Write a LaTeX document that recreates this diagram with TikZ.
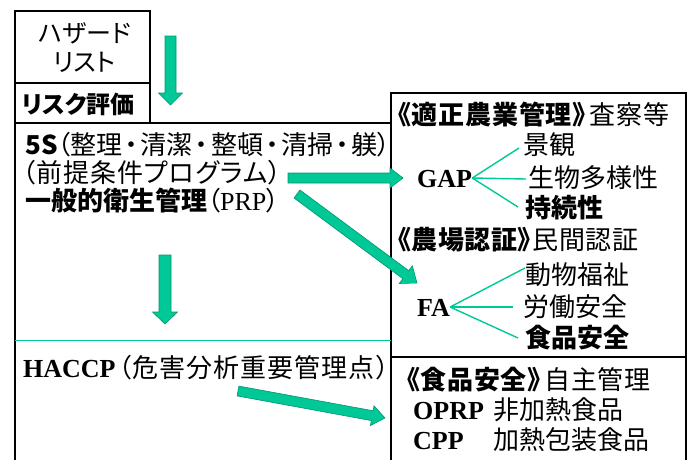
\documentclass[tikz,border=0pt]{standalone}
\usepackage{fontspec}
\setmainfont{Liberation Serif}
\newfontfamily\jp[RawFeature=+palt]{Noto Sans CJK JP}
\usetikzlibrary{calc}
\definecolor{tealfill}{RGB}{0,200,150}
\definecolor{tealedge}{RGB}{0,150,110}
\newcommand{\mydot}{\hspace{0.1em}・\hspace{0.1em}}
\newcommand{\fatarr}[5]{%
  \path (#1) coordinate (fa-s) (#2) coordinate (fa-e);
  \path ($(fa-e)!#5!(fa-s)$) coordinate (fa-h);
  \filldraw[fatarrow] ($(fa-s)!#3!90:(fa-e)$) -- ($(fa-h)!#3!-90:(fa-s)$) -- ($(fa-h)!#4!-90:(fa-s)$) -- (fa-e) -- ($(fa-h)!#4!90:(fa-s)$) -- ($(fa-h)!#3!90:(fa-s)$) -- ($(fa-s)!#3!-90:(fa-e)$) -- cycle;}
\tikzset{
  box/.style={draw=black, line width=1.5pt},
  fatarrow/.style={fill=tealfill, draw=tealedge, line width=0.6pt, line join=miter},
  branch/.style={draw=tealfill, line width=1.4pt},
  txt/.style={inner sep=0pt, anchor=west, text height=22pt, text depth=3pt, font=\jp\fontsize{26}{28}\selectfont},
  lat/.style={inner sep=0pt, anchor=west, text height=22pt, text depth=3pt, font=\rmfamily\bfseries\fontsize{26}{28}\selectfont},
}
\begin{document}
\begin{tikzpicture}[x=1pt, y=-1pt]
\useasboundingbox (0,0) rectangle (692,459);
\clip (0,0) rectangle (692,459);
% boxes
\draw[box] (15,11) rectangle (150,83);
\draw[box] (15,83) rectangle (150,123);
\draw[box] (15,470) -- (15,123) -- (391,123) -- (391,470);
\draw[box] (391,93) rectangle (686,357);
\draw[box] (391,470) -- (391,357) -- (686,357) -- (686,470);
\draw[draw=tealfill, line width=1pt] (15,340) -- (391,340);
% left texts
\node[txt, anchor=center, font=\jp\fontsize{25}{28}\selectfont] (haz1) at (85,33) {ハザード};
\node[txt, anchor=center, font=\jp\fontsize{25}{28}\selectfont] (haz2) at (84,62) {リスト};
\node[txt, font=\jp\bfseries\fontsize{24}{28}\selectfont] (risk) at (22,104) {リスク評価};
\node[txt] (l1) at (25,145) {{\jp\bfseries 5S}（整理\mydot 清潔\mydot 整頓\mydot 清掃\mydot 躾）};
\node[txt, font=\jp\fontsize{26}{28}\selectfont\addfontfeature{LetterSpace=4}] (l2) at (22,173) {（前提条件プログラム）};
\node[txt] (l3) at (25,201) {{\jp\bfseries 一般的衛生管理}（{\rmfamily\mdseries\fontsize{26}{28}\selectfont PRP}）};
\node[txt, font=\jp\fontsize{26}{28}\selectfont\addfontfeature{LetterSpace=4}] (haccp) at (23,368) {{\rmfamily\bfseries\fontsize{26}{28}\selectfont HACCP}\hspace{3pt}（危害分析重要管理点）};
% right upper texts
\node[txt, font=\jp\fontsize{26}{28}\selectfont\addfontfeature{LetterSpace=3}] (gaphead) at (398,115) {{\bfseries 《適正農業管理》}\hspace{4pt}査察等};
\node[lat] (gap) at (417,178) {GAP};
\node[txt] (keikan) at (523,145) {景観};
\node[txt] (bio) at (528,178) {生物多様性};
\node[txt, font=\jp\bfseries\fontsize{26}{28}\selectfont] (sus) at (525,208) {持続性};
\node[txt, font=\jp\fontsize{26}{28}\selectfont\addfontfeature{LetterSpace=2}] (fahead) at (398,240) {{\bfseries 《農場認証》}\hspace{2pt}民間認証};
\node[lat] (fa) at (417,307) {FA};
\node[txt] (animal) at (525,275) {動物福祉};
\node[txt] (labor) at (523,307) {労働安全};
\node[txt, font=\jp\bfseries\fontsize{26}{28}\selectfont] (food) at (525,338) {食品安全};
% right lower texts
\node[txt, font=\jp\fontsize{26}{28}\selectfont\addfontfeature{LetterSpace=2.5}] (fshead) at (407,380) {{\bfseries 《食品安全》}\hspace{4pt}自主管理};
\node[lat] (oprp) at (413,410) {OPRP};
\node[txt] (oprpt) at (493,410) {非加熱食品};
\node[lat] (cpp) at (413,440) {CPP};
\node[txt] (cppt) at (493,440) {加熱包装食品};
% branches
\coordinate (g1) at (519,148);
\coordinate (g2) at (526,179);
\coordinate (g3) at (518,207);
\draw[branch] (gap.east) -- (g1);
\draw[branch] (gap.east) -- (g2);
\draw[branch] (gap.east) -- (g3);
\coordinate (f1) at (525,268);
\coordinate (f2) at (513,307);
\coordinate (f3) at (518,338);
\draw[branch] (fa.east) -- (f1);
\draw[branch] (fa.east) -- (f2);
\draw[branch] (fa.east) -- (f3);
% fat arrows
\coordinate (a1s) at (170.5,36);  \coordinate (a1e) at (170.5,105);
\coordinate (a2s) at (288,178);   \coordinate (a2e) at (403,178);
\coordinate (a3s) at (297,194);   \coordinate (a3e) at (417,283);
\coordinate (a4s) at (165,255);   \coordinate (a4e) at (165,324);
\coordinate (a5s) at (238,391);   \coordinate (a5e) at (385,418);
\fatarr{a1s}{a1e}{5.5pt}{12pt}{12pt}
\fatarr{a2s}{a2e}{5pt}{10pt}{13pt}
\fatarr{a3s}{a3e}{5pt}{11pt}{14pt}
\fatarr{a4s}{a4e}{6pt}{12.5pt}{12pt}
\fatarr{a5s}{a5e}{5pt}{10pt}{13pt}
\end{tikzpicture}
\end{document}
